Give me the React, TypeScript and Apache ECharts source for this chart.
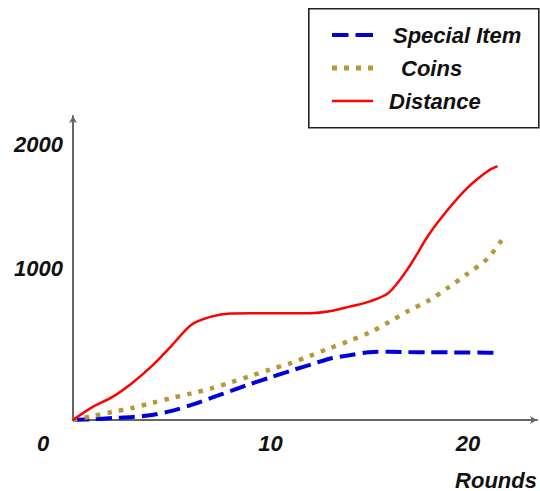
import React, { useEffect, useRef } from "react";
import * as echarts from "echarts";

const rounds = [0, 1, 2, 3, 4, 5, 6, 7, 8, 9, 10, 11, 12, 13, 14, 15, 16, 17, 18, 19, 20, 21];
const distanceRounds = [...rounds, 21.5];
const specialRounds = [...rounds, 21.5];
const coinsRounds = [...rounds, 21.8];

const specialItem = [0, 5, 13, 20, 33, 60, 99, 145, 191, 238, 280, 323, 363, 403, 426, 446, 449, 447, 446, 445, 444, 443, 442];
const coins = [0, 26, 53, 79, 112, 145, 175, 208, 248, 290, 333, 373, 422, 472, 521, 574, 644, 719, 785, 871, 964, 1063, 1201];
const distance = [0, 86, 152, 244, 356, 490, 627, 680, 700, 702, 702, 702, 703, 716, 746, 779, 838, 1003, 1215, 1386, 1531, 1637, 1670];

const xTickLabels = ["0", "10", "20"];
const yTickLabels = ["1000", "2000"];
const seriesNames = ["Special Item", "Coins", "Distance"];

const FONT = "'Liberation Sans', Arial, Helvetica, sans-serif";

const BLUE = "#0000dd";
const GOLD = "#b5983a";
const RED = "#ff0000";

export default function App() {
  const ref = useRef<HTMLDivElement>(null);
  useEffect(() => {
    if (!ref.current) return;
    const chart = echarts.init(ref.current, undefined, { renderer: "svg" });
    const pair = (xs: number[], ys: number[]) => xs.map((x, i) => [x, ys[i]]);
    const textBase = {
      fontFamily: FONT,
      fontWeight: "bold" as const,
      fontStyle: "italic" as const,
      color: "#111",
      fontSize: 22,
    };
    chart.setOption({
      animation: false,
      backgroundColor: "#fff",
      grid: { left: 73, right: 3, top: 116, bottom: 71, containLabel: false },
      graphic: [
        {
          type: "rect",
          left: 308,
          top: 8,
          shape: { width: 230, height: 119 },
          style: { fill: "#fff", stroke: "#222", lineWidth: 1.6 },
          z: 0,
        },
      ],
      legend: {
        orient: "vertical",
        left: 327,
        top: 19,
        itemWidth: 41,
        itemHeight: 5,
        itemGap: 11,
        data: [
          {
            name: seriesNames[0],
            icon: "path://M0 0 M0 5 M0 0.5h16.5v4h-16.5Z M23.5 0.5h17.5v4h-17.5Z",
            itemStyle: { color: BLUE, borderWidth: 0 },
          },
          {
            name: seriesNames[1],
            icon: "path://M0 0h5v5h-5Z M12 0h5v5h-5Z M24 0h5v5h-5Z M36 0h5v5h-5Z",
            itemStyle: { color: GOLD, borderWidth: 0 },
          },
          {
            name: seriesNames[2],
            icon: "path://M0 0 M0 5 M0 1.25h41v2.5h-41Z",
            itemStyle: { color: RED, borderWidth: 0 },
          },
        ],
        formatter: (name: string) => {
          const key = name === "Coins" ? "c" : name === "Distance" ? "d" : "s";
          return `{${key}|${name}}`;
        },
        textStyle: {
          ...textBase,
          lineHeight: 22,
          rich: {
            s: { ...textBase, padding: [0, 0, 0, 15] },
            c: { ...textBase, padding: [0, 0, 0, 23] },
            d: { ...textBase, padding: [0, 0, 0, 11] },
          },
        },
      },
      xAxis: {
        type: "value",
        min: 0,
        max: 23.5,
        interval: 10,
        name: "Rounds",
        nameLocation: "end",
        nameGap: 0,
        nameTextStyle: {
          ...textBase,
          align: "right",
          verticalAlign: "top",
          padding: [49, 0, 0, 0],
        },
        axisLine: {
          lineStyle: { color: "#666", width: 2 },
          symbol: ["none", "arrow"],
          symbolSize: [6, 7],
        },
        axisTick: { show: false },
        splitLine: { show: false },
        axisLabel: {
          ...textBase,
          margin: 12,
          showMaxLabel: false,
          formatter: (v: number) => {
            const idx = [0, 10, 20].indexOf(v);
            if (idx < 0) return "";
            if (v === 0) return `{o|${xTickLabels[0]}}`;
            return xTickLabels[idx];
          },
          rich: { o: { ...textBase, padding: [0, 60, 10, 0] } },
        },
      },
      yAxis: {
        type: "value",
        min: 0,
        max: 2000,
        interval: 1000,
        axisLine: {
          show: true,
          lineStyle: { color: "#666", width: 2 },
          symbol: ["none", "arrow"],
          symbolSize: [6, 7],
        },
        axisTick: { show: false },
        splitLine: { show: false },
        axisLabel: {
          ...textBase,
          margin: 10,
          formatter: (v: number) => {
            if (v === 1000) return yTickLabels[0];
            if (v === 2000) return `{t|${yTickLabels[1]}}`;
            return "";
          },
          rich: { t: { ...textBase, padding: [56, 0, 0, 0] } },
        },
      },
      series: [
        {
          name: seriesNames[0],
          type: "line",
          data: pair(specialRounds, specialItem),
          symbol: "none",
          smooth: 0.3,
          lineStyle: { color: BLUE, width: 4, type: [16, 7], cap: "butt" },
          itemStyle: { color: BLUE },
          z: 3,
        },
        {
          name: seriesNames[1],
          type: "line",
          data: pair(coinsRounds, coins),
          symbol: "none",
          smooth: 0.3,
          lineStyle: { color: GOLD, width: 4.5, type: [4.5, 7.2], cap: "butt" },
          itemStyle: { color: GOLD },
          z: 4,
        },
        {
          name: seriesNames[2],
          type: "line",
          data: pair(distanceRounds, distance),
          symbol: "none",
          smooth: 0.3,
          lineStyle: { color: RED, width: 2.5 },
          itemStyle: { color: RED },
          z: 5,
        },
      ],
    });
    return () => chart.dispose();
  }, []);
  return (
    <div
      ref={ref}
      style={{ position: "fixed", left: 0, top: 0, width: 540, height: 491 }}
    />
  );
}
